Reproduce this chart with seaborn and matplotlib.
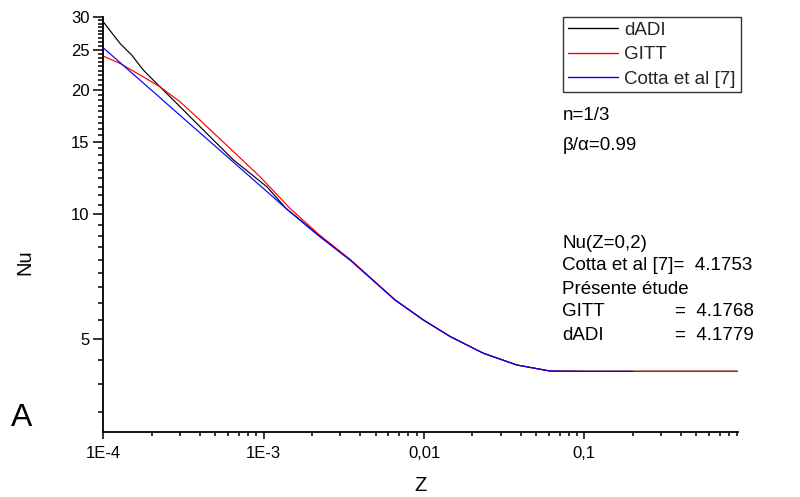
import numpy as np
import pandas as pd
import matplotlib
matplotlib.use("Agg")
import matplotlib.pyplot as plt
import matplotlib.ticker as mticker
import seaborn as sns

# ---- data ----
z_dadi = [1e-4, 1.271e-4, 1.504e-4, 1.776e-4, 2.203e-4, 2.87e-4, 4.01e-4, 6.47e-4,
          1.046e-3, 1.393e-3, 2.2e-3, 3.48e-3, 6.6e-3, 9.9e-3, 0.01462, 0.02347,
          0.03793, 0.0612, 0.1, 0.2, 0.9]
nu_dadi = [29.2, 25.9, 24.27, 22.33, 20.53, 18.55, 16.29, 13.55,
           11.67, 10.3, 8.92, 7.76, 6.21, 5.56, 5.065, 4.618,
           4.327, 4.183, 4.178, 4.178, 4.178]

z_gitt = [1e-4, 1.271e-4, 1.776e-4, 2.258e-4, 3.01e-4, 4.01e-4, 6.17e-4, 9.5e-4,
          1.461e-3, 2.2e-3, 3.48e-3, 6.6e-3, 9.9e-3, 0.01462, 0.02347,
          0.03793, 0.0612, 0.1, 0.2, 0.9]
nu_gitt = [24.13, 23.17, 21.5, 20.34, 18.72, 16.9, 14.44, 12.33,
           10.34, 8.96, 7.77, 6.22, 5.56, 5.065, 4.618,
           4.327, 4.183, 4.177, 4.1768, 4.1768]

z_cotta = [1e-4, 1.333e-4, 1.955e-4, 3.155e-4, 5.1e-4, 8.23e-4, 1.36e-3, 2.2e-3,
           3.48e-3, 6.6e-3, 9.9e-3, 0.01462, 0.02347, 0.03793, 0.0612, 0.1, 0.2]
nu_cotta = [25.27, 22.91, 20.11, 17.08, 14.51, 12.33, 10.39, 8.88,
            7.74, 6.21, 5.56, 5.065, 4.618, 4.327, 4.183, 4.176, 4.1753]

series_names = ["dADI", "GITT", "Cotta et al [7]"]
series_colors = ["#000000", "#ff0000", "#0000ff"]

x_major = [1e-4, 1e-3, 1e-2, 1e-1]
x_major_labels = ["1E-4", "1E-3", "0,01", "0,1"]
y_major = [5, 10, 15, 20, 25, 30]

df = pd.concat([
    pd.DataFrame({"Z": z_dadi, "Nu": nu_dadi, "serie": series_names[0]}),
    pd.DataFrame({"Z": z_gitt, "Nu": nu_gitt, "serie": series_names[1]}),
    pd.DataFrame({"Z": z_cotta, "Nu": nu_cotta, "serie": series_names[2]}),
], ignore_index=True)

sns.set_style("ticks")
plt.rcParams["font.family"] = ["Liberation Sans", "DejaVu Sans"]

W, H = 800, 497
fig = plt.figure(figsize=(W / 100, H / 100), dpi=100)
L, R, T, B = 103.3, 738.3, 17, 432
ax = fig.add_axes([L / W, 1 - B / H, (R - L) / W, (B - T) / H])

sns.lineplot(data=df, x="Z", y="Nu", hue="serie", hue_order=series_names,
             palette=series_colors, linewidth=0.85, ax=ax, sort=False,
             estimator=None, legend=True)

ax.set_xscale("log")
ax.set_yscale("log")
ax.set_xlim(1e-4, 0.912)
ax.set_ylim(2.98, 30)

ax.xaxis.set_major_locator(mticker.FixedLocator(x_major))
ax.xaxis.set_major_formatter(mticker.FixedFormatter(x_major_labels))
ax.xaxis.set_minor_locator(mticker.LogLocator(base=10, subs=np.arange(2, 10), numticks=20))
ax.xaxis.set_minor_formatter(mticker.NullFormatter())

ax.yaxis.set_major_locator(mticker.FixedLocator(y_major))
ax.yaxis.set_major_formatter(mticker.FixedFormatter([str(v) for v in y_major]))
ax.yaxis.set_minor_locator(mticker.MultipleLocator(5 / 9))
ax.yaxis.set_minor_formatter(mticker.NullFormatter())

sns.despine(ax=ax)
for s in ["left", "bottom"]:
    ax.spines[s].set_linewidth(1.3)
    ax.spines[s].set_color("black")

ax.tick_params(axis="both", which="both", direction="out", color="black",
               width=1.1, labelsize=12, labelcolor="black")
ax.tick_params(axis="x", which="major", length=5, pad=5)
ax.tick_params(axis="x", which="minor", length=3)
ax.tick_params(axis="y", which="major", length=7, pad=3)
ax.tick_params(axis="y", which="minor", length=3.5)

ax.set_xlabel("Z", fontsize=14.5, color="black")
ax.set_ylabel("Nu", fontsize=14.5, color="black")
ax.xaxis.set_label_coords(0.5, (B - 476) / (B - T))
ax.yaxis.set_label_coords((34 - L) / (R - L), (B - 262) / (B - T))

leg = ax.legend(title=None, loc="upper left",
                bbox_to_anchor=(563 / W, 1 - 17 / H), bbox_transform=fig.transFigure,
                frameon=True, fancybox=False, shadow=False, borderaxespad=0,
                fontsize=13.5, handlelength=2.65, handletextpad=0.35,
                borderpad=0.26, labelspacing=0.38)
leg.get_frame().set_edgecolor("black")
leg.get_frame().set_linewidth(1.0)
for h in leg.get_lines():
    h.set_linewidth(1.0)

def ftext(px, py, s, **kw):
    fig.text(px / W, 1 - py / H, s, va="center", ha="left", color="black", **kw)

fs = 13.5
ftext(563, 115, "n=1/3", fontsize=fs)
ftext(563, 145, "β/α=0.99", fontsize=fs)
ftext(562, 243, "Nu(Z=0,2)", fontsize=fs)
ftext(562, 266, "Cotta et al [7]=  4.1753", fontsize=fs)
ftext(562, 289, "Présente étude", fontsize=fs)
ftext(562, 312, "GITT", fontsize=fs)
ftext(675, 312, "=  4.1768", fontsize=fs)
ftext(562, 335, "dADI", fontsize=fs)
ftext(675, 335, "=  4.1779", fontsize=fs)

fig.text(22 / W, 1 - 418 / H, "A", fontsize=23, ha="center", va="center", color="black")

fig.savefig("out.png", dpi=100)
